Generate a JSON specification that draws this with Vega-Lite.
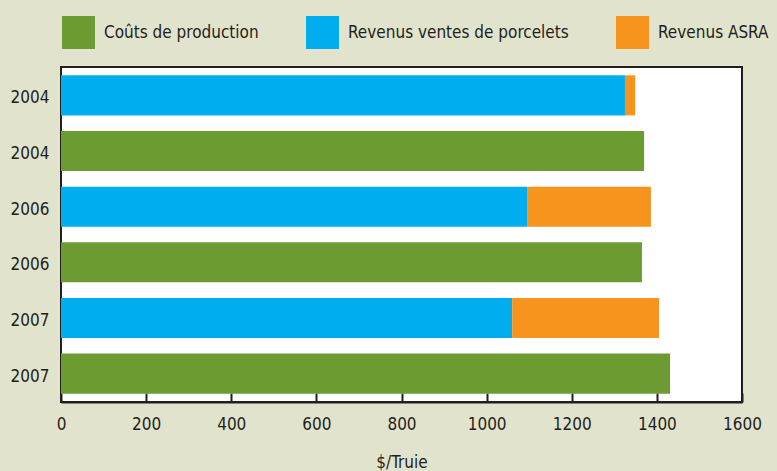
{
  "$schema": "https://vega.github.io/schema/vega-lite/v6.json",
  "autosize": "none",
  "width": 681,
  "height": 335,
  "padding": {"left": 61, "top": 67, "right": 35, "bottom": 69},
  "background": "#E2E3CD",
  "config": {
    "font": "'DejaVu Sans Condensed', 'Open Sans', sans-serif",
    "view": {"fill": "white", "stroke": "#231F20", "strokeWidth": 2},
    "axis": {"labelColor": "#231F20", "titleColor": "#231F20", "labelFont": "'DejaVu Sans Condensed', 'Open Sans', sans-serif", "titleFont": "'DejaVu Sans Condensed', 'Open Sans', sans-serif", "titleFontWeight": "normal", "grid": false},
    "legend": {"labelFont": "'DejaVu Sans Condensed', 'Open Sans', sans-serif"}
  },
  "data": {
    "values": [
      {"row": "2004a", "serie": "Revenus ventes de porcelets", "ord": 1, "value": 1325},
      {"row": "2004a", "serie": "Revenus ASRA", "ord": 2, "value": 24},
      {"row": "2004b", "serie": "Coûts de production", "ord": 0, "value": 1370},
      {"row": "2006a", "serie": "Revenus ventes de porcelets", "ord": 1, "value": 1095},
      {"row": "2006a", "serie": "Revenus ASRA", "ord": 2, "value": 291},
      {"row": "2006b", "serie": "Coûts de production", "ord": 0, "value": 1365},
      {"row": "2007a", "serie": "Revenus ventes de porcelets", "ord": 1, "value": 1060},
      {"row": "2007a", "serie": "Revenus ASRA", "ord": 2, "value": 345},
      {"row": "2007b", "serie": "Coûts de production", "ord": 0, "value": 1431}
    ]
  },
  "mark": {"type": "bar"},
  "encoding": {
    "y": {
      "field": "row", "type": "nominal",
      "sort": ["2004a", "2004b", "2006a", "2006b", "2007a", "2007b"],
      "scale": {"paddingInner": 0.28, "paddingOuter": 0.15},
      "axis": {"title": null, "ticks": false, "domain": false, "labelPadding": 12, "labelOffset": 3, "labelFontSize": 17, "labelExpr": "slice(datum.label, 0, 4)"}
    },
    "x": {
      "field": "value", "type": "quantitative", "stack": "zero",
      "scale": {"domain": [0, 1600], "nice": false},
      "axis": {"title": "$/Truie", "values": [0, 200, 400, 600, 800, 1000, 1200, 1400, 1600], "format": "d", "labelFlush": false, "tickSize": -9, "tickColor": "#231F20", "tickWidth": 2, "domainColor": "#231F20", "domainWidth": 2, "labelFontSize": 17, "labelPadding": 23, "titleFontSize": 17, "titlePadding": 22}
    },
    "order": {"field": "ord"},
    "color": {
      "field": "serie", "type": "nominal",
      "scale": {"domain": ["Coûts de production", "Revenus ventes de porcelets", "Revenus ASRA"], "range": ["#6C9C31", "#00AEEF", "#F7941D"]},
      "legend": {
        "title": null, "orient": "none", "direction": "horizontal", "legendX": 1, "legendY": -51,
        "symbolType": "square", "symbolSize": 1089, "symbolStrokeWidth": 0, "symbolOpacity": 1,
        "labelFontSize": 17, "labelColor": "#231F20", "labelOffset": 9, "columnPadding": 47, "labelLimit": 400
      }
    }
  }
}
